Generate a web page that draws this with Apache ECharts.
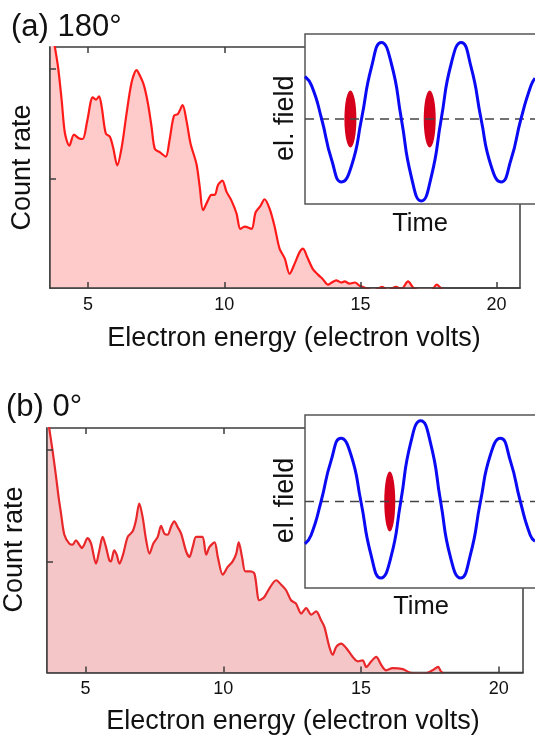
<!DOCTYPE html>
<html>
<head>
<meta charset="utf-8">
<script src="https://cdn.jsdelivr.net/npm/echarts@6/dist/echarts.min.js"></script>
<style>
html, body { margin: 0; padding: 0; background: #fff; }
#chart { width: 535px; height: 742px; }
</style>
</head>
<body>
<div id="chart"></div>
<script>
// (a) 180° : electron spectrum
const energyA = [3.6, 3.78, 3.9, 4.03, 4.15, 4.31, 4.48, 4.64, 4.8, 4.97, 5.17, 5.29, 5.4, 5.5, 5.65, 5.8, 5.92, 6.07, 6.23, 6.41,
  6.6, 6.78, 6.9, 7.05, 7.2, 7.33, 7.45, 7.63, 7.85, 7.99, 8.15, 8.3, 8.47, 8.61, 8.76, 8.98, 9.1, 9.22, 9.4, 9.53,
  9.65, 9.77, 9.93, 10.08, 10.26, 10.45, 10.59, 10.75, 11.0, 11.15, 11.33, 11.48, 11.67, 11.85, 12.03, 12.22, 12.4, 12.58, 12.77, 12.89,
  13.05, 13.26, 13.45, 13.62, 13.81, 13.95, 14.11, 14.3, 14.42, 14.6, 14.8, 14.97, 15.2, 15.5, 15.8, 16.0, 16.3, 16.5, 16.75, 16.95,
  17.2, 17.6, 17.8, 17.95, 18.1]
const countA = [2.5, 2.2, 2.01, 1.71, 1.41, 1.3, 1.4, 1.37, 1.36, 1.53, 1.74, 1.72, 1.75, 1.65, 1.41, 1.38, 1.28, 1.12, 1.28, 1.59,
  1.88, 1.99, 1.94, 1.85, 1.68, 1.47, 1.27, 1.24, 1.2, 1.35, 1.57, 1.59, 1.67, 1.53, 1.32, 1.13, 0.92, 0.71, 0.8, 0.85,
  0.85, 0.94, 0.98, 0.88, 0.8, 0.68, 0.54, 0.56, 0.54, 0.69, 0.75, 0.81, 0.72, 0.56, 0.36, 0.27, 0.13, 0.22, 0.33, 0.36,
  0.28, 0.17, 0.12, 0.08, 0.03, 0.05, 0.07, 0.05, 0.06, 0.04, 0.05, 0.02, 0.0, -0.02, 0.01, -0.02, 0.01, -0.01, 0.06, 0.0,
  -0.02, -0.02, 0.03, 0.0, -0.02]

// (b) 0° : electron spectrum
const energyB = [3.6, 3.68, 3.8, 3.93, 4.02, 4.11, 4.23, 4.41, 4.53, 4.65, 4.77, 4.87, 4.95, 5.07, 5.2, 5.38, 5.5, 5.62, 5.74, 5.86,
  5.92, 6.04, 6.13, 6.23, 6.37, 6.53, 6.71, 6.83, 6.95, 7.07, 7.2, 7.32, 7.46, 7.62, 7.74, 7.86, 7.98, 8.1, 8.22, 8.34,
  8.47, 8.65, 8.77, 8.89, 9.01, 9.13, 9.25, 9.38, 9.5, 9.68, 9.8, 9.98, 10.16, 10.34, 10.47, 10.56, 10.68, 10.8, 10.97, 11.13,
  11.31, 11.49, 11.68, 11.92, 12.1, 12.28, 12.46, 12.64, 12.83, 13.01, 13.19, 13.37, 13.55, 13.67, 13.85, 13.97, 14.1, 14.28, 14.46, 14.7,
  14.88, 15.06, 15.19, 15.37, 15.55, 15.73, 15.91, 16.15, 16.52, 16.76, 17.0, 17.3, 17.6, 17.8, 17.9, 18.0]
const countB = [2.35, 2.2, 2.0, 1.76, 1.58, 1.43, 1.24, 1.16, 1.15, 1.19, 1.15, 1.12, 1.15, 1.21, 1.16, 0.98, 1.1, 1.22, 1.13, 1.01,
  1.0, 1.1, 1.06, 0.98, 1.07, 1.22, 1.27, 1.37, 1.52, 1.4, 1.19, 1.07, 1.16, 1.22, 1.32, 1.25, 1.24, 1.31, 1.36, 1.31,
  1.25, 1.09, 1.04, 1.13, 1.22, 1.22, 1.22, 1.06, 1.13, 1.17, 1.04, 0.88, 0.95, 1.0, 1.07, 1.17, 1.04, 0.91, 0.91, 0.89,
  0.65, 0.68, 0.76, 0.83, 0.79, 0.74, 0.65, 0.62, 0.53, 0.58, 0.52, 0.55, 0.47, 0.41, 0.23, 0.16, 0.23, 0.26, 0.22, 0.14,
  0.1, 0.11, 0.05, 0.1, 0.14, 0.07, 0.02, 0.04, 0.03, 0.0, -0.01, -0.01, 0.02, 0.05, 0.01, -0.01]

// insets: field vs time (time in inset units, field normalised)
const timeA = [0, 6.75, 16.8, 26.85, 36.9, 46.95, 57.0, 67.05, 77.1, 87.15, 97.2, 107.25, 117.3,
  127.35, 137.4, 147.45, 157.5, 167.55, 177.6, 187.65, 197.7, 207.75, 217.8, 227.85, 232]
const fieldA = [0.5, 0.39, 0, -0.48, -0.74, -0.55, 0, 0.61, 0.9, 0.65, 0, -0.68, -0.965,
  -0.68, 0, 0.65, 0.9, 0.61, 0, -0.55, -0.74, -0.48, 0, 0.39, 0.48]
const pulseTimeA = [45.8, 125.8]

const timeB = [0, 6.1, 16.2, 26.25, 36.3, 46.35, 56.4, 66.45, 76.5, 86.55, 96.6, 106.65, 116.7,
  126.75, 136.8, 146.85, 156.9, 166.95, 177.0, 187.05, 197.1, 207.15, 217.2, 227.25, 232]
const fieldB = [-0.49, -0.39, 0, 0.47, 0.73, 0.54, 0, -0.61, -0.885, -0.65, 0, 0.68, 0.934,
  0.67, 0, -0.65, -0.885, -0.61, 0, 0.54, 0.73, 0.47, 0, -0.39, -0.46]
const pulseTimeB = [85.5]

const energyTicks = [5, 10, 15, 20]
const countTicks = [1, 2]

const font = '"Liberation Sans", Arial, sans-serif'
const frame = '#3c3c3c'
const zip = (xs, ys) => xs.map((x, i) => [x, ys[i]])

// bottom / left carry the line, top / right only mirror the ticks (frame comes from the grid border)
function mainX(grid, pos, max) {
  return {
    type: 'value', gridIndex: grid, position: pos, min: 3.6, max: max, z: 3,
    axisLine: { show: pos === 'bottom', onZero: false, lineStyle: { color: frame, width: 1.5 } },
    axisTick: { show: true, inside: true, length: 6, customValues: energyTicks, lineStyle: { color: frame, width: 1.5 } },
    axisLabel: { show: pos === 'bottom', customValues: energyTicks, margin: 8, color: '#111', fontSize: 18, fontFamily: font },
    splitLine: { show: false }
  }
}
function mainY(grid, pos) {
  return {
    type: 'value', gridIndex: grid, position: pos, min: 0, max: 2.2, z: 3,
    axisLine: { show: pos === 'left', onZero: false, lineStyle: { color: frame, width: 1.5 } },
    axisTick: { show: true, inside: true, length: 6, customValues: countTicks, lineStyle: { color: frame, width: 1.5 } },
    axisLabel: { show: false },
    splitLine: { show: false }
  }
}
function insetAxis(grid, min, max) {
  return { type: 'value', gridIndex: grid, min: min, max: max, show: false }
}
function spectrum(xi, yi, xs, ys, line, fill) {
  return {
    type: 'line', xAxisIndex: xi, yAxisIndex: yi, data: zip(xs, ys),
    symbol: 'none', smooth: 0.3, z: 2, silent: true,
    lineStyle: { color: line, width: 2.2 },
    areaStyle: { color: fill, opacity: 1 }
  }
}
function field(xi, yi, ts, vs) {
  return {
    type: 'line', xAxisIndex: xi, yAxisIndex: yi, data: zip(ts, vs),
    symbol: 'none', smooth: 0.55, z: 14, silent: true,
    lineStyle: { color: '#0a0af5', width: 3 }
  }
}
function zeroLine(xi, yi) {
  return {
    type: 'line', xAxisIndex: xi, yAxisIndex: yi, data: [[0, 0], [232, 0]],
    symbol: 'none', z: 13, silent: true,
    lineStyle: { color: '#444', width: 1.3, type: [9, 6] }
  }
}
function pulses(xi, yi, ts, size) {
  return {
    type: 'scatter', xAxisIndex: xi, yAxisIndex: yi, data: ts.map(t => [t, 0]),
    symbol: 'circle', symbolSize: size, z: 12, silent: true,
    itemStyle: { color: '#d6001c', opacity: 1 }
  }
}
// white inset box covering the top right corner of each panel
function insetBox(x, y, w, h) {
  return {
    type: 'rect', z: 10, silent: true,
    shape: { x: x, y: y, width: w, height: h },
    style: { fill: '#fff', stroke: '#555', lineWidth: 1.5 }
  }
}
function label(text, x, y, size, rotate) {
  return {
    type: 'text', x: x, y: y, z: 20, rotation: rotate ? Math.PI / 2 : 0,
    style: { text: text, fontSize: size, fontFamily: font, fill: '#111', textAlign: 'center', textVerticalAlign: 'middle' }
  }
}
function title(text, x, y) {
  return {
    type: 'text', x: x, y: y, z: 20,
    style: { text: text, fontSize: 31, fontFamily: font, fill: '#111', textAlign: 'left', textVerticalAlign: 'middle' }
  }
}

const frameGrid = { show: true, backgroundColor: 'transparent', borderColor: frame, borderWidth: 1.5 }

const chart = echarts.init(document.getElementById('chart'))
chart.setOption({
  animation: false,
  backgroundColor: '#fff',
  grid: [
    Object.assign({ left: 50, top: 47, width: 470, height: 241 }, frameGrid),
    { left: 305, top: 34, width: 232, height: 170 },
    Object.assign({ left: 47, top: 428, width: 476, height: 244.5 }, frameGrid),
    { left: 305, top: 415, width: 232, height: 173 }
  ],
  xAxis: [
    mainX(0, 'bottom', 20.86),
    mainX(0, 'top', 20.86),
    insetAxis(1, 0, 232),
    mainX(2, 'bottom', 20.88),
    mainX(2, 'top', 20.88),
    insetAxis(3, 0, 232)
  ],
  yAxis: [
    mainY(0, 'left'),
    mainY(0, 'right'),
    insetAxis(1, -1, 1),
    mainY(2, 'left'),
    mainY(2, 'right'),
    insetAxis(3, -1, 1)
  ],
  series: [
    spectrum(0, 0, energyA, countA, '#ff1a1a', '#ffcaca'),
    spectrum(3, 3, energyB, countB, '#e8282a', '#f5c6c8'),
    pulses(2, 2, pulseTimeA, [12, 57]),
    zeroLine(2, 2),
    field(2, 2, timeA, fieldA),
    pulses(5, 5, pulseTimeB, [11, 60]),
    zeroLine(5, 5),
    field(5, 5, timeB, fieldB)
  ],
  graphic: [
    insetBox(305, 34, 240, 170),
    insetBox(305, 415, 240, 173),
    title('(a) 180°', 11, 27),
    title('(b) 0°', 6, 407),
    label('Count rate', 22.5, 167.5, 27, true),
    label('Count rate', 15, 549.5, 27, true),
    label('Electron energy (electron volts)', 294, 339, 27),
    label('Electron energy (electron volts)', 293, 722, 27),
    label('el. field', 285.5, 118.3, 27, true),
    label('el. field', 285.5, 500.5, 27, true),
    label('Time', 420, 224, 25.5),
    label('Time', 421, 606.5, 25.5)
  ]
})
</script>
</body>
</html>
